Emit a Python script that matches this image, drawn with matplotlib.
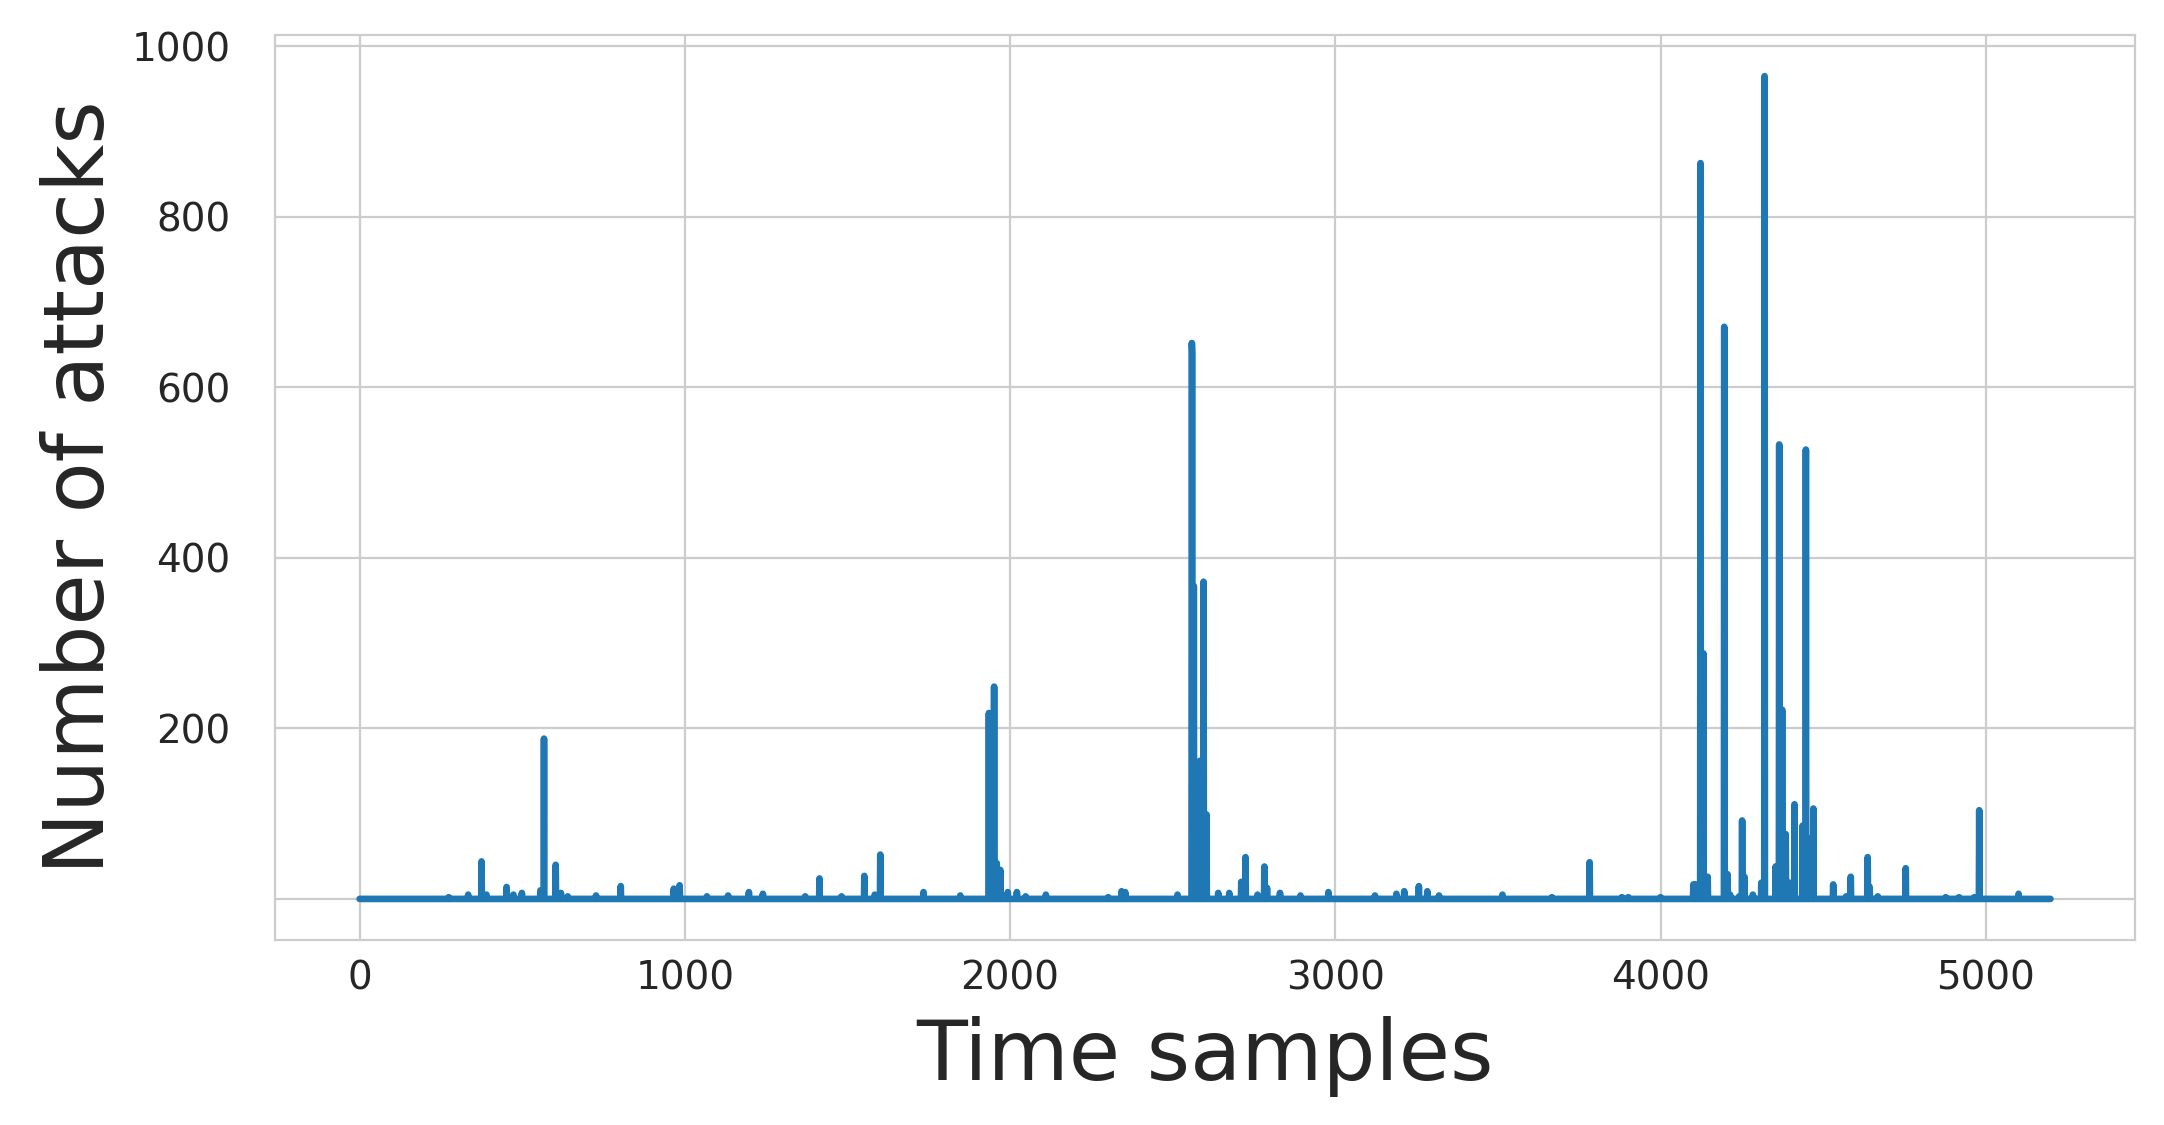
import numpy as np
import matplotlib
matplotlib.use("Agg")
import matplotlib.pyplot as plt
import seaborn as sns

# number of time samples
n_samples = 5200

# spike positions (sample index) and number of attacks
spike_idx = [274, 334, 375, 390, 452, 473, 499, 556, 567, 603, 619, 640, 727, 803,
             966, 984, 1068, 1133, 1197, 1240, 1370, 1414, 1482, 1552, 1584, 1601,
             1734, 1847, 1935, 1951, 1959, 1970, 1993, 2021, 2048, 2110, 2302, 2343,
             2354, 2515, 2559, 2560, 2565, 2578, 2584, 2595, 2604, 2640, 2674, 2711,
             2724, 2761, 2782, 2790, 2830, 2893, 2979, 3122, 3188, 3212, 3257, 3283,
             3319, 3514, 3666, 3782, 3881, 3901, 4000, 4101, 4108, 4123, 4132, 4145,
             4196, 4206, 4214, 4242, 4251, 4258, 4284, 4310, 4320, 4354, 4365, 4374,
             4385, 4396, 4412, 4437, 4447, 4455, 4470, 4531, 4571, 4585, 4637, 4643,
             4668, 4754, 4877, 4918, 4965, 4980, 5101]
spike_val = [2, 5, 44, 5, 14, 5, 7, 10, 188, 40, 7, 3, 4, 15,
             12, 16, 3, 4, 8, 6, 3, 24, 3, 27, 5, 52,
             8, 4, 218, 249, 42, 34, 8, 8, 3, 5, 2, 9,
             8, 5, 652, 640, 367, 15, 162, 372, 99, 7, 7, 20,
             49, 5, 38, 13, 7, 4, 8, 4, 6, 9, 15, 9,
             4, 5, 2, 43, 2, 2, 2, 17, 17, 863, 288, 26,
             671, 29, 5, 3, 92, 26, 5, 19, 965, 38, 533, 222,
             76, 19, 111, 86, 527, 71, 106, 17, 3, 26, 49, 14,
             3, 36, 2, 2, 2, 104, 6]

attacks = np.zeros(n_samples)
attacks[spike_idx] = spike_val

sns.set_style("whitegrid")
plt.rcParams['font.family'] = ['DejaVu Sans']

fig = plt.figure(figsize=(10.82, 5.625), dpi=200)
ax = fig.add_subplot(111)
fig.subplots_adjust(left=0.1271, right=0.9866, top=0.9689, bottom=0.1644)

ax.plot(np.arange(n_samples), attacks, color='#1f77b4', linewidth=2.4)

yt = [0, 200, 400, 600, 800, 1000]
ax.set_yticks(yt)
ax.set_yticklabels([''] + [str(v) for v in yt[1:]])
ax.tick_params(labelsize=14, colors='#262626')
ax.tick_params(axis='y', pad=12.5)
ax.set_xlabel('Time samples', fontsize=30, color='#262626', labelpad=6.5)
ax.set_ylabel('Number of attacks', fontsize=30, color='#262626')

fig.savefig('out.png', dpi=200)
